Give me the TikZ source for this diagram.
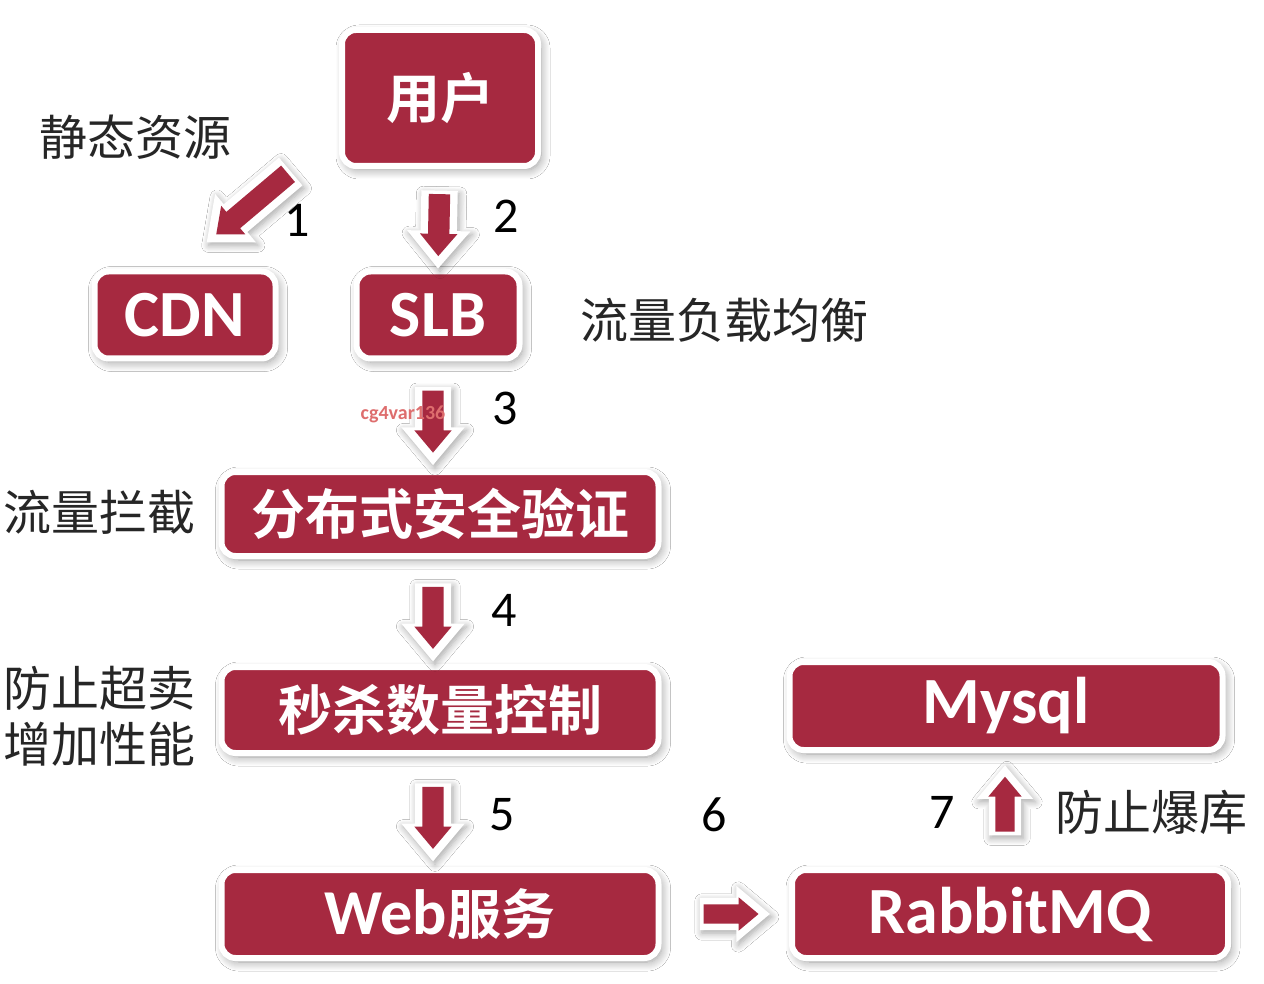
\documentclass[tikz,border=0pt]{standalone}
\usepackage{fontspec}
\usetikzlibrary{shapes.arrows,shadows.blur}
\newfontfamily\cjk{Noto Sans CJK SC}
\newfontfamily\cjkb{Noto Sans CJK SC Bold}
\newfontfamily\lat{Carlito}
\definecolor{boxred}{RGB}{166,41,64}
\tikzset{
  box/.style={fill=boxred, draw=white, line width=6pt, rounded corners=14pt, text=white, inner sep=0pt,
    blur shadow={shadow xshift=3pt, shadow yshift=-4pt, shadow blur steps=10, shadow blur radius=9pt,
      shadow blur extra rounding=4pt, shadow opacity=40}},
  cjkbig/.style={font=\cjkb\fontsize{54}{60}\selectfont},
  latbig/.style={font=\lat\bfseries\fontsize{66}{70}\selectfont},
  lbl/.style={font=\cjk\fontsize{48}{56}\selectfont, text=black!85, inner sep=0pt},
  num/.style={font=\lat\fontsize{50}{56}\selectfont, text=black, inner sep=0pt},
  arrowbase/.style={single arrow, draw=none, inner xsep=0pt, outer sep=0pt, sloped, allow upside down,
    single arrow tip angle=80},
  barrowbg/.style={arrowbase, fill=white, minimum height=78pt, inner ysep=18pt, minimum width=63pt, single arrow head extend=13.5pt,
    blur shadow={shadow xshift=2pt, shadow yshift=-3pt, shadow blur steps=8, shadow blur radius=7pt, shadow opacity=35}},
  barrowfg/.style={arrowbase, fill=boxred, minimum height=62pt, inner ysep=10.5pt, minimum width=37pt, single arrow head extend=8pt},
  sarrowbg/.style={barrowbg, minimum height=70pt, inner ysep=16pt, minimum width=56pt, single arrow head extend=12pt},
  sarrowfg/.style={barrowfg, minimum height=55pt, inner ysep=9.5pt, minimum width=33pt, single arrow head extend=7pt},
  larrowbg/.style={barrowbg, minimum height=110pt},
  larrowfg/.style={barrowfg, minimum height=94pt}
}
\begin{document}
\begin{tikzpicture}[x=1pt,y=-1pt]
\useasboundingbox[fill=white] (0,0) rectangle (1264,984);
% boxes
\node[box, cjkbig, minimum width=196pt, minimum height=136pt] (usr) at (440,98) {用户};
\node[box, latbig, minimum width=181pt, minimum height=87pt] (cdn) at (185,315) {CDN};
\node[box, latbig, minimum width=163pt, minimum height=87pt] (slb) at (438,315) {SLB};
\node[box, cjkbig, minimum width=437pt, minimum height=84pt] (sec) at (440,514) {分布式安全验证};
\node[box, cjkbig, minimum width=437pt, minimum height=86pt] (cnt) at (440,710) {秒杀数量控制};
\node[box, minimum width=437pt, minimum height=88pt] (web) at (440,914) {{\lat\bfseries\fontsize{64}{70}\selectfont Web}{\cjkb\fontsize{54}{60}\selectfont 服务}};
\node[box, latbig, minimum width=433pt, minimum height=88pt] (sql) at (1006,706) {Mysql};
\node[box, latbig, minimum width=436pt, minimum height=88pt] (rmq) at (1010,914) {RabbitMQ};
% labels
\node[lbl] (l1) at (135,137) {静态资源};
\node[lbl] (l2) at (724,320) {流量负载均衡};
\node[lbl] (l3) at (100,512) {流量拦截};
\node[lbl, align=center] (l4) at (100,716) {防止超卖\\增加性能};
\node[lbl] (l5) at (1151,812) {防止爆库};
% numbers
\node[num] (n1) at (297,220) {1};
\node[num] (n2) at (506,216) {2};
\node[num] (n3) at (505,408) {3};
\node[num] (n4) at (504,610) {4};
\node[num] (n5) at (502,815) {5};
\node[num] (n6) at (714,815) {6};
\node[num] (n7) at (942,812) {7};
% arrows
\coordinate (a1s) at (302,162);
\coordinate (a1e) at (212,238);
\path (a1s) -- (a1e) node[larrowbg, midway] (ar1b) {} node[larrowfg, midway] (ar1) {};
\path (usr.south) -- (slb.north) node[barrowbg, midway] (ar2b) {} node[barrowfg, midway] (ar2) {};
\path ([xshift=-5pt]slb.south) -- ([xshift=-7pt]sec.north) node[barrowbg, midway] (ar3b) {} node[barrowfg, midway] (ar3) {};
\path ([xshift=-7pt]sec.south) -- ([xshift=-7pt]cnt.north) node[barrowbg, midway] (ar4b) {} node[barrowfg, midway] (ar4) {};
\path ([xshift=-7pt]cnt.south) -- ([xshift=-7pt]web.north) node[barrowbg, midway] (ar5b) {} node[barrowfg, midway] (ar5) {};
\path (web.east) -- (rmq.west) node[sarrowbg, midway] (ar6b) {} node[sarrowfg, midway] (ar6) {};
\path ([xshift=-5pt]rmq.north) -- ([xshift=-1pt]sql.south) node[sarrowbg, midway] (ar7b) {} node[sarrowfg, midway] (ar7) {};
% watermark
\node[font=\lat\bfseries\fontsize{20}{22}\selectfont, text={rgb,255:red,222;green,110;blue,110}] (wm) at (403,414) {cg4var136};
\end{tikzpicture}
\end{document}
